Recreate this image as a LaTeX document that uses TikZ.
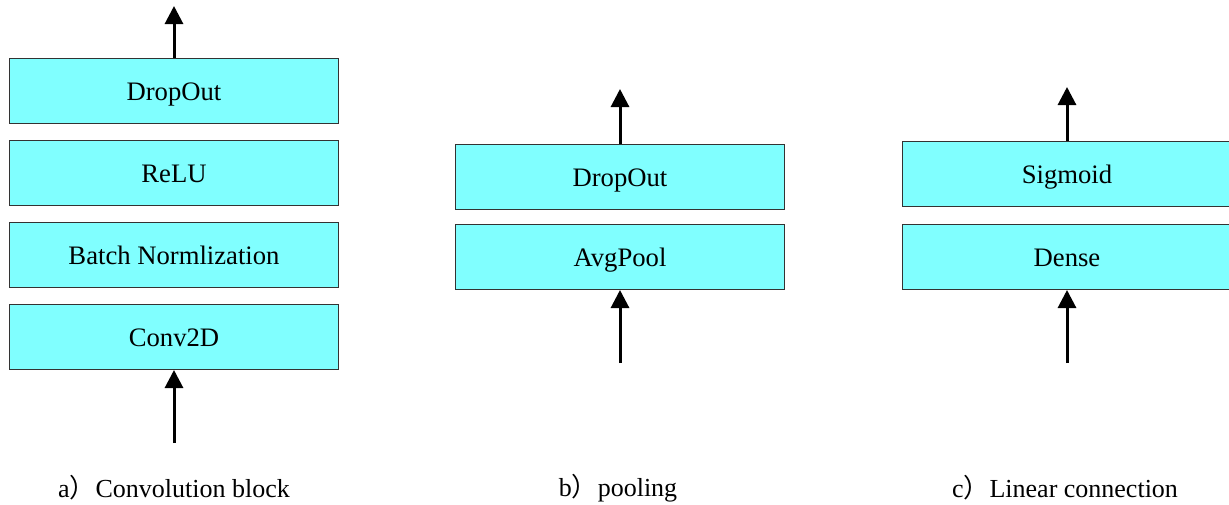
\documentclass[tikz,border=0pt]{standalone}
\usepackage{fontspec}
\setmainfont{Liberation Serif}
\newfontfamily\cjk{Noto Sans CJK SC}
\usepackage{xcolor}
\usepackage{tikz}
\usetikzlibrary{positioning,arrows.meta}
\definecolor{layercyan}{HTML}{80FFFF}
\definecolor{layerline}{HTML}{333333}

\tikzset{
  layer/.style={draw=layerline, fill=layercyan, line width=0.75pt,
    minimum width=246.75pt, minimum height=48.75pt, inner sep=0pt,
    text height=16pt, text depth=1.3pt,
    font=\fontsize{20}{24}\selectfont},
  flow/.style={-{Triangle[width=13.5pt,length=13.5pt]}, line width=2.25pt},
  caption/.style={font=\fontsize{19.5}{24}\selectfont}
}

\begin{document}
\begin{tikzpicture}[x=0.75pt, y=-0.75pt]
  \useasboundingbox (0,0) rectangle (1229,504);

  % a) convolution block
  \node[layer] (conv) at (174,337) {Conv2D};
  \node[layer, above=12pt of conv] (bn) {Batch Normlization};
  \node[layer, above=12pt of bn] (relu) {ReLU};
  \node[layer, above=12pt of relu] (dropa) {DropOut};
  \coordinate (ina) at (174,443);
  \coordinate (outa) at (174,6);
  \draw[flow] (ina) -- (conv);
  \draw[flow] (dropa) -- (outa);
  \node[caption] (capa) at (174,488) {a{\cjk ）}Convolution block};

  % b) pooling
  \node[layer] (pool) at (620,257) {AvgPool};
  \node[layer, above=10.5pt of pool] (dropb) {DropOut};
  \coordinate (inb) at (620,363);
  \coordinate (outb) at (620,89);
  \draw[flow] (inb) -- (pool);
  \draw[flow] (dropb) -- (outb);
  \node[caption] (capb) at (618,488) {b{\cjk ）}pooling};

  % c) linear connection
  \node[layer] (dense) at (1067,257) {Dense};
  \node[layer, above=12.75pt of dense] (sigm) {Sigmoid};
  \coordinate (inc) at (1067,363);
  \coordinate (outc) at (1067,87);
  \draw[flow] (inc) -- (dense);
  \draw[flow] (sigm) -- (outc);
  \node[caption] (capc) at (1065,488) {c{\cjk ）}Linear connection};
\end{tikzpicture}
\end{document}
